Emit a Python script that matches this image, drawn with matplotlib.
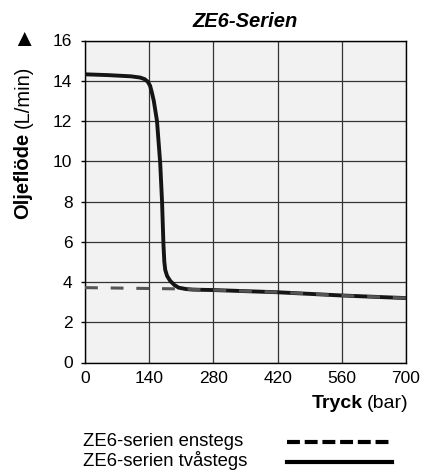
import matplotlib.pyplot as plt
from matplotlib.lines import Line2D

plt.rcParams['font.family'] = ['Liberation Sans', 'DejaVu Sans']

# pressure (bar) and oil flow (L/min)
tvastegs_x = [0, 50, 100, 120, 130, 137, 142, 146, 150, 157, 164, 168, 171, 173,
              175, 179, 186, 195, 204, 220, 236, 280, 420, 560, 700]
tvastegs_y = [14.32, 14.28, 14.22, 14.16, 14.08, 13.95, 13.75, 13.4, 13.0, 12.0,
              9.9, 8.0, 5.9, 5.0, 4.6, 4.3, 4.05, 3.85, 3.72, 3.65, 3.62, 3.6,
              3.49, 3.33, 3.2]
enstegs_x = [0, 200, 280, 420, 560, 700]
enstegs_y = [3.72, 3.66, 3.6, 3.49, 3.33, 3.2]

x_ticks = [0, 140, 280, 420, 560, 700]
y_ticks = [0, 2, 4, 6, 8, 10, 12, 14, 16]

title = 'ZE6-Serien'
legend_labels = ['ZE6-serien enstegs', 'ZE6-serien tvåstegs']

W, H = 424, 472
fig = plt.figure(figsize=(W / 100, H / 100), dpi=100)
ax = fig.add_axes([85 / W, 1 - 362.5 / H, 321 / W, 322 / H])
ax.set_facecolor('#f2f2f2')

ax.plot(tvastegs_x, tvastegs_y, color='#151515', lw=2.8, zorder=3,
        solid_capstyle='butt')
ax.plot(enstegs_x, enstegs_y, color='#555555', lw=2.2, zorder=4,
        dashes=(4.2, 4.2))

ax.set_xlim(0, 700)
ax.set_ylim(0, 16)
ax.set_xticks(x_ticks)
ax.set_yticks(y_ticks)
ax.grid(True, color='#333333', lw=0.9)
ax.set_axisbelow(True)
for s in ax.spines.values():
    s.set_color('black')
    s.set_linewidth(1.0)
ax.tick_params(axis='y', length=3, width=1, pad=6, labelsize=12.5)
ax.tick_params(axis='x', length=0, pad=6, labelsize=12.5)

ax.set_title(title, fontsize=14.5, fontweight='bold', fontstyle='italic', pad=10)

# axis labels made of bold + regular parts
fig.canvas.draw()
r = fig.canvas.get_renderer()

def px(x, y):
    return x / W, 1 - y / H

t1 = fig.text(*px(23, 219), 'Oljeflöde', rotation=90, rotation_mode='anchor',
              ha='left', va='center', fontsize=14.5, fontweight='bold')
bb = t1.get_window_extent(r)
t2 = fig.text(23 / W, (bb.y1 + 5) / H, '(L/min)', rotation=90, rotation_mode='anchor',
              ha='left', va='center', fontsize=14.5)
fig.text(*px(24, 40), '▲', ha='center', va='center', fontsize=17)

t3 = fig.text(*px(408, 403), '(bar)', ha='right', va='center', fontsize=14)
bb = t3.get_window_extent(r)
fig.text((bb.x0 - 4) / W, 1 - 403 / H, 'Tryck', ha='right', va='center',
         fontsize=14, fontweight='bold')

# legend at the bottom
fig.text(*px(83, 441), legend_labels[0], ha='left', va='center', fontsize=13.3)
fig.text(*px(83, 461), legend_labels[1], ha='left', va='center', fontsize=13.3)
fig.add_artist(Line2D([287 / W, 392 / W], [1 - 441.7 / H] * 2, color='black',
                      lw=3, dashes=(3.1, 1.15)))
fig.add_artist(Line2D([287 / W, 392 / W], [1 - 461.7 / H] * 2, color='black',
                      lw=3))

fig.savefig('out.png', dpi=100)
